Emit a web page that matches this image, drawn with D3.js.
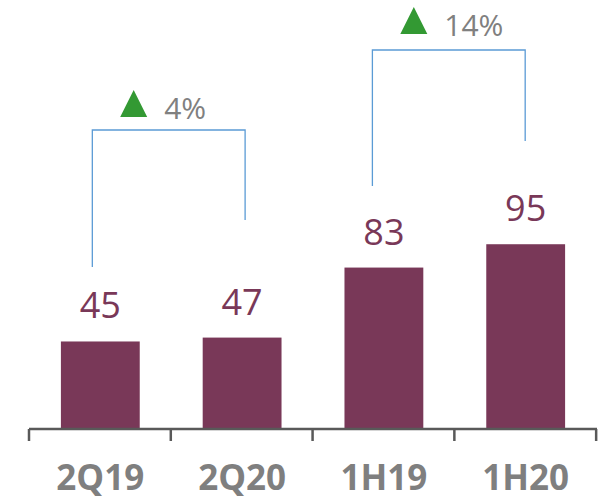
<!DOCTYPE html>
<html>
<head>
<meta charset="utf-8">
<script src="https://cdn.jsdelivr.net/npm/d3@7"></script>
<style>
  body { margin: 0; background: #fff; }
  svg { display: block; }
</style>
</head>
<body>
<div id="chart"></div>
<script>
var categories = ["2Q19", "2Q20", "1H19", "1H20"];
var values = [45, 47, 83, 95];
var growthLabels = ["4%", "14%"];
var growthPairs = [[0, 1], [2, 3]];

var width = 606, height = 501;
var svg = d3.select("#chart").append("svg")
    .attr("width", width)
    .attr("height", height);

var x = d3.scaleBand()
    .domain(categories)
    .range([29, 597])
    .paddingInner(0.444)
    .paddingOuter(0.225);

var y = d3.scaleLinear()
    .domain([0, 100])
    .range([429, 234.5]);

// bars
svg.selectAll("rect.bar")
    .data(values)
    .enter()
    .append("rect")
    .attr("class", "bar")
    .attr("x", function(d, i) { return x(categories[i]); })
    .attr("y", function(d) { return y(d); })
    .attr("width", x.bandwidth())
    .attr("height", function(d) { return y(0) - y(d); })
    .attr("fill", "#793858");

// value labels
svg.selectAll("text.val")
    .data(values)
    .enter()
    .append("text")
    .attr("class", "val")
    .attr("x", function(d, i) { return x(categories[i]) + x.bandwidth() / 2; })
    .attr("y", function(d) { return y(d) - 23; })
    .attr("text-anchor", "middle")
    .attr("font-family", "Open Sans, sans-serif")
    .attr("font-size", 36)
    .attr("fill", "#793858")
    .text(function(d) { return d; });

// axis line and ticks
var step = x.step();
var ax = svg.append("g").attr("stroke", "#595959").attr("stroke-width", 2.5);
ax.append("line")
    .attr("x1", 29).attr("x2", 597)
    .attr("y1", y(0)).attr("y2", y(0));
for (var i = 0; i <= categories.length; i++) {
    var tx = 29 + step * i;
    ax.append("line")
        .attr("x1", tx).attr("x2", tx)
        .attr("y1", y(0)).attr("y2", y(0) + 12);
}

// category labels
svg.selectAll("text.cat")
    .data(categories)
    .enter()
    .append("text")
    .attr("class", "cat")
    .attr("x", function(d) { return x(d) + x.bandwidth() / 2; })
    .attr("y", 490)
    .attr("text-anchor", "middle")
    .attr("font-family", "Open Sans, sans-serif")
    .attr("font-weight", "bold")
    .attr("font-size", 35)
    .attr("fill", "#7f7f7f")
    .text(function(d) { return d; });

// growth brackets
var bracketTop = [130, 50];
var leftOffset = [-8, -11.5];
var rightOffset = [3, -0.5];
var leftBottom = [267, 186];
var rightBottom = [220, 141];
var triBottom = [117, 34];

growthPairs.forEach(function(p, k) {
    var cx0 = x(categories[p[0]]) + x.bandwidth() / 2 + leftOffset[k];
    var cx1 = x(categories[p[1]]) + x.bandwidth() / 2 + rightOffset[k];
    var top = bracketTop[k];
    svg.append("path")
        .attr("d", "M" + cx0 + "," + leftBottom[k] + "V" + top + "H" + cx1 + "V" + rightBottom[k])
        .attr("fill", "none")
        .attr("stroke", "#5b9bd5")
        .attr("stroke-width", 1.3);

    var tx = (cx0 + cx1) / 2 - 35;
    var ty = triBottom[k];
    svg.append("path")
        .attr("d", "M" + tx + "," + (ty - 27) + "L" + (tx + 13.5) + "," + ty + "L" + (tx - 13.5) + "," + ty + "Z")
        .attr("fill", "#339933");
    svg.append("text")
        .attr("x", tx + 30.5)
        .attr("y", ty + 2)
        .attr("font-family", "Open Sans, sans-serif")
        .attr("font-size", 30)
        .attr("fill", "#808080")
        .text(growthLabels[k]);
});
</script>
</body>
</html>
